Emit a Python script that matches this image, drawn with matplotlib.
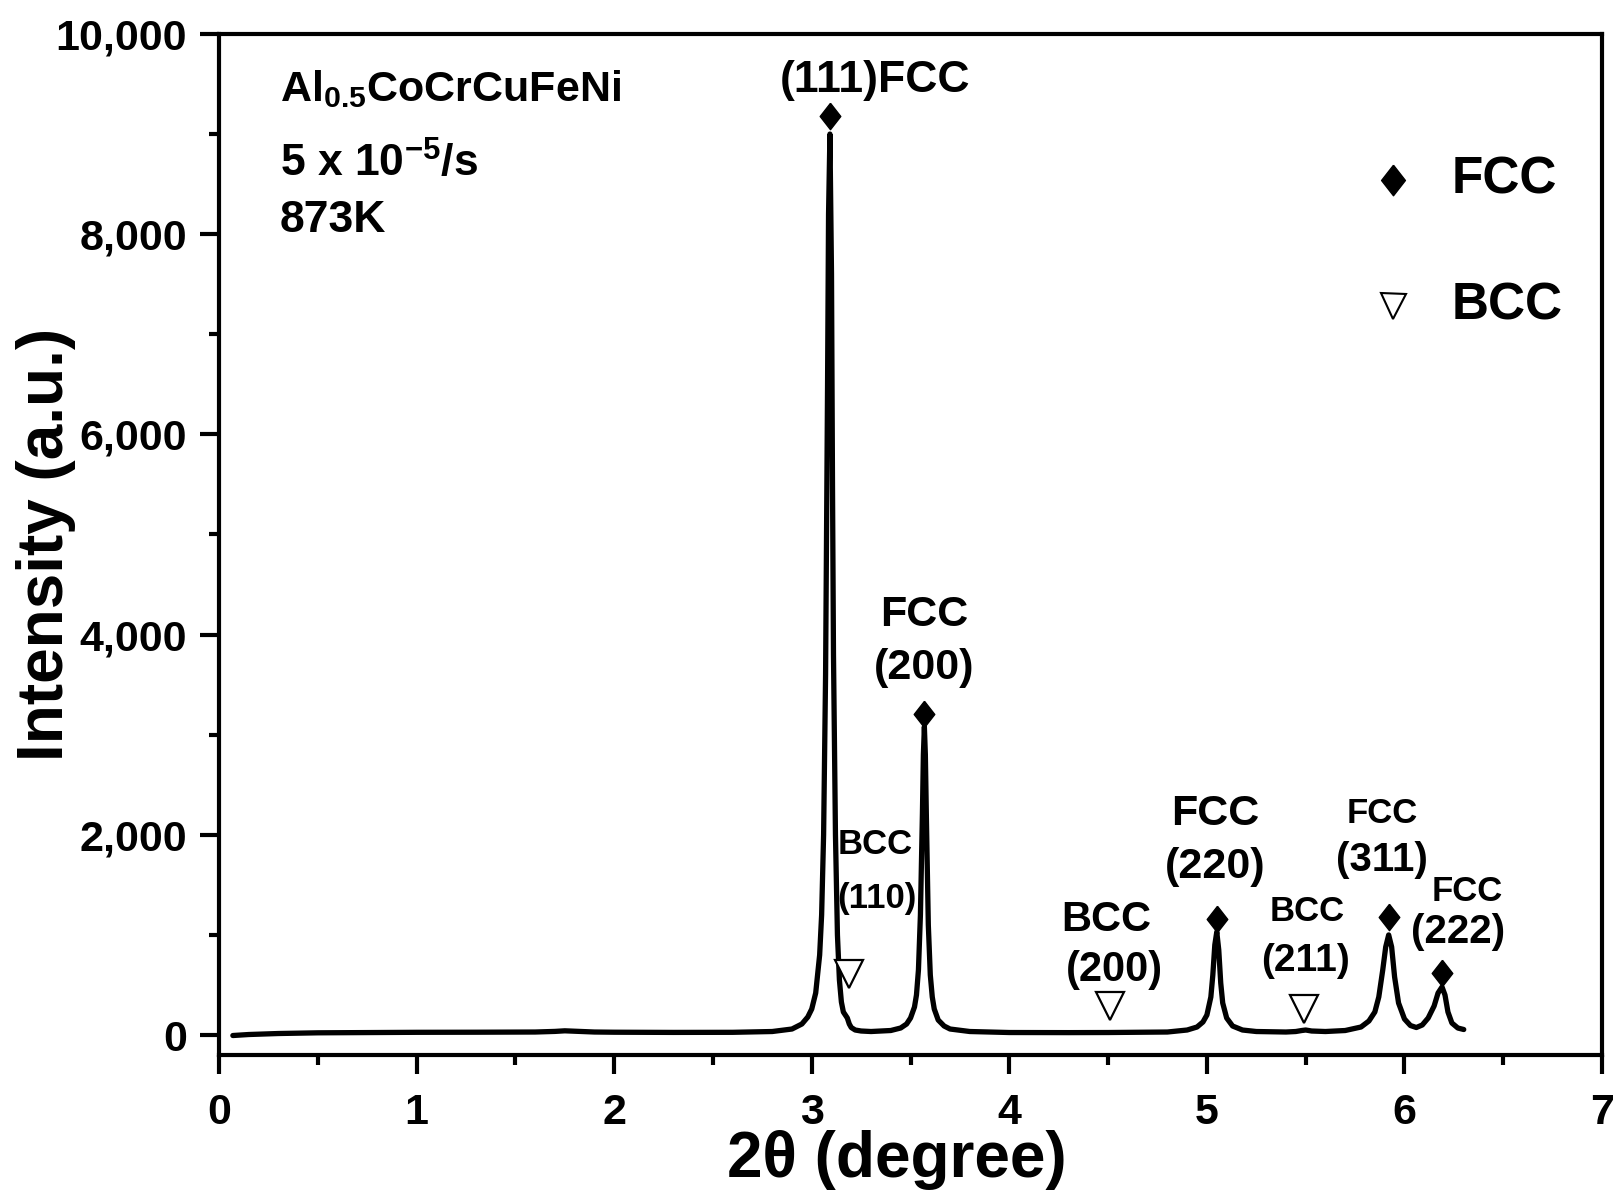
import matplotlib
matplotlib.use("Agg")
import matplotlib.pyplot as plt
from matplotlib.ticker import MultipleLocator, FuncFormatter

plt.rcParams['font.family'] = ['Liberation Sans', 'DejaVu Sans']
plt.rcParams['font.weight'] = 'bold'
plt.rcParams['mathtext.fontset'] = 'custom'
plt.rcParams['mathtext.rm'] = 'Liberation Sans:bold'
plt.rcParams['mathtext.it'] = 'Liberation Sans:bold'
plt.rcParams['mathtext.bf'] = 'Liberation Sans:bold'

# Diffraction pattern (2theta, intensity)
two_theta = [0.07, 0.15, 0.3, 0.5, 0.8, 1.0, 1.3, 1.6, 1.7, 1.75, 1.8, 1.9, 2.0, 2.3,
             2.6, 2.8, 2.9, 2.95, 2.98, 3.00, 3.02, 3.04, 3.05, 3.06, 3.07, 3.08,
             3.085, 3.092, 3.10, 3.105, 3.11, 3.12, 3.13, 3.14, 3.15, 3.16, 3.17,
             3.18, 3.19, 3.20, 3.22, 3.25, 3.30, 3.40, 3.45, 3.48, 3.50, 3.52, 3.53,
             3.54, 3.55, 3.56, 3.565, 3.57, 3.575, 3.58, 3.59, 3.60, 3.61, 3.62,
             3.64, 3.67, 3.70, 3.80, 4.00, 4.30, 4.50, 4.80, 4.90, 4.95, 4.98, 5.00,
             5.02, 5.03, 5.04, 5.05, 5.06, 5.07, 5.08, 5.10, 5.13, 5.18, 5.25, 5.40,
             5.45, 5.48, 5.50, 5.53, 5.60, 5.70, 5.78, 5.82, 5.85, 5.87, 5.89, 5.905,
             5.92, 5.935, 5.95, 5.97, 6.00, 6.03, 6.06, 6.09, 6.12, 6.15, 6.17, 6.19,
             6.205, 6.22, 6.24, 6.27, 6.30]
intensity = [-5, 5, 15, 22, 25, 27, 28, 30, 36, 42, 38, 30, 28, 26,
             27, 35, 60, 110, 180, 260, 420, 800, 1200, 2000, 3600, 6500,
             8200, 9000, 7600, 5500, 3800, 2000, 1000, 550, 330, 230, 200,
             170, 110, 75, 50, 40, 35, 45, 70, 110, 170, 280, 400,
             650, 1200, 2200, 2800, 3080, 2800, 2200, 1100, 600, 380, 260,
             150, 90, 60, 35, 25, 24, 25, 30, 50, 80, 130, 200,
             380, 600, 900, 1030, 850, 520, 320, 170, 90, 50, 35, 30,
             35, 45, 50, 40, 35, 45, 80, 140, 230, 380, 650, 880,
             1000, 880, 580, 320, 160, 95, 75, 100, 170, 290, 420, 480,
             400, 230, 120, 70, 55]

# Phase markers
fcc_x = [3.09, 3.57, 5.05, 5.92, 6.19]
fcc_y = [9180, 3210, 1160, 1180, 620]
bcc_x = [3.19, 4.51, 5.49]
bcc_y = [610, 290, 260]

# Peak labels: (text, x, y, fontsize)
peak_labels = [
    ("(111)FCC", 3.32, 9540, 32),
    ("FCC", 3.57, 4200, 31), ("(200)", 3.57, 3670, 31),
    ("BCC", 3.32, 1900, 25), ("(110)", 3.33, 1360, 25),
    ("BCC", 4.49, 1150, 30), ("(200)", 4.53, 650, 30),
    ("FCC", 5.04, 2210, 31), ("(220)", 5.04, 1680, 31),
    ("BCC", 5.51, 1235, 25), ("(211)", 5.50, 740, 28),
    ("FCC", 5.885, 2210, 25), ("(311)", 5.885, 1750, 29),
    ("FCC", 6.32, 1430, 25), ("(222)", 6.27, 1030, 29),
]

x_ticks = [0, 1, 2, 3, 4, 5, 6, 7]
y_ticks = [0, 2000, 4000, 6000, 8000, 10000]

diamond = [(0, 1), (0.78, 0), (0, -1), (-0.78, 0), (0, 1)]

fig = plt.figure(figsize=(16.14, 12.0), dpi=100)
ax = fig.add_axes([0.1357, 0.1208, 0.8569, 0.8509])

ax.plot(two_theta, intensity, color='black', lw=3.8, solid_joinstyle='round',
        solid_capstyle='round', zorder=3)
ax.plot(fcc_x, fcc_y, ls='none', marker=diamond, ms=19, color='black', zorder=4)
ax.plot(bcc_x, bcc_y, ls='none', marker='v', ms=20, mfc='white', mec='black',
        mew=1.6, zorder=4)

for txt, x, y, fs in peak_labels:
    ax.text(x, y, txt, ha='center', va='center', fontsize=fs, fontweight='bold')

# Sample information
ax.text(0.307, 9450, r'Al$_{0.5}$CoCrCuFeNi', ha='left', va='center', fontsize=31)
ax.text(0.307, 8700, r'5 x 10$^{-5}$/s', ha='left', va='center', fontsize=32)
ax.text(0.307, 8140, '873K', ha='left', va='center', fontsize=32)

# Phase key
ax.plot([0.849], [0.857], transform=ax.transAxes, marker=diamond, ms=22,
        color='black', ls='none', clip_on=False)
ax.plot([0.849], [0.734], transform=ax.transAxes, marker='v', ms=18,
        mfc='white', mec='black', mew=1.5, ls='none', clip_on=False)
ax.text(0.891, 0.857, 'FCC', transform=ax.transAxes, ha='left', va='center',
        fontsize=37)
ax.text(0.891, 0.734, 'BCC', transform=ax.transAxes, ha='left', va='center',
        fontsize=37)

ax.set_xlim(0, 7)
ax.set_ylim(-200, 10000)
ax.set_xticks(x_ticks)
ax.set_yticks(y_ticks)
ax.xaxis.set_minor_locator(MultipleLocator(0.5))
ax.yaxis.set_minor_locator(MultipleLocator(1000))
ax.yaxis.set_major_formatter(FuncFormatter(lambda v, p: f"{int(v):,}"))

for s in ax.spines.values():
    s.set_linewidth(3.0)
ax.tick_params(which='major', direction='out', length=14, width=3.0,
               labelsize=31, pad=9)
ax.tick_params(which='minor', direction='out', length=7, width=3.0)
ax.tick_params(axis='x', which='major', pad=13)
for lab in ax.get_xticklabels() + ax.get_yticklabels():
    lab.set_fontweight('bold')

ax.set_xlabel('2θ (degree)', fontsize=46, fontweight='bold')
ax.set_ylabel('Intensity (a.u.)', fontsize=46, fontweight='bold')
ax.xaxis.label.set_va('center')
ax.yaxis.label.set_va('center')
ax.xaxis.set_label_coords(0.49, -0.103)
ax.yaxis.set_label_coords(-0.125, 0.5)

fig.savefig('out.png', dpi=100)
